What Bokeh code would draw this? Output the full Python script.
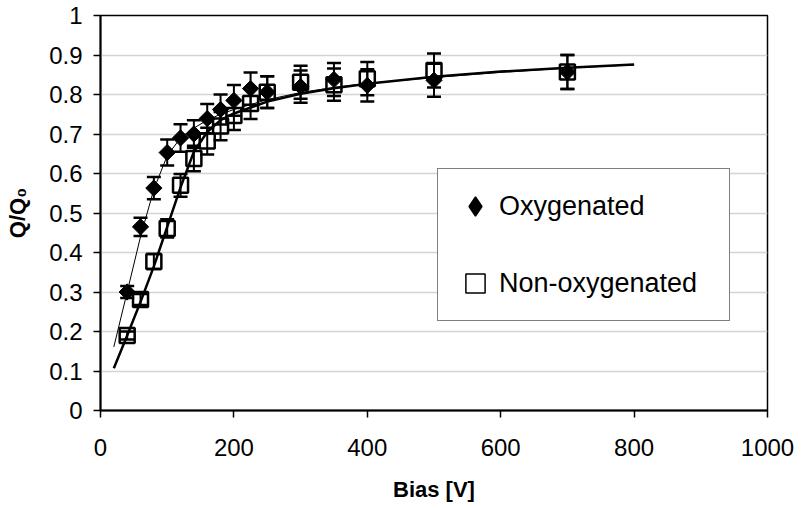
import math
from bokeh.plotting import figure
from bokeh.models import (ColumnDataSource, Whisker, TeeHead, FixedTicker,
                          PrintfTickFormatter, Legend, LegendItem)
from bokeh.embed import file_html
from bokeh.resources import INLINE

# ---- data ----
bias = [40, 60, 80, 100, 120, 140, 160, 180, 200, 225, 250, 300, 350, 400, 500, 700]
oxygenated = [0.300, 0.465, 0.563, 0.653, 0.690, 0.700, 0.739, 0.762, 0.785, 0.815,
              0.806, 0.820, 0.838, 0.823, 0.836, 0.857]
oxygenated_err = [0.015, 0.023, 0.028, 0.033, 0.035, 0.035, 0.037, 0.038, 0.039, 0.041,
                  0.040, 0.041, 0.042, 0.041, 0.042, 0.043]
non_oxygenated = [0.190, 0.281, 0.377, 0.461, 0.570, 0.638, 0.682, 0.720, 0.747, 0.777,
                  0.806, 0.831, 0.825, 0.840, 0.861, 0.857]
non_oxygenated_err = [0.010, 0.014, 0.019, 0.023, 0.029, 0.032, 0.034, 0.036, 0.037, 0.039,
                      0.040, 0.042, 0.041, 0.042, 0.043, 0.043]

fit_bias = [20, 40, 60, 80, 100, 120, 140, 160, 180, 200, 250, 300, 350, 400, 500, 600, 700, 800]
fit_oxygenated = [0.161, 0.300, 0.440, 0.560, 0.645, 0.690, 0.715, 0.735, 0.750, 0.762,
                  0.787, 0.805, 0.818, 0.828, 0.843, 0.856, 0.867, 0.875]
fit_non_oxygenated = [0.107, 0.190, 0.275, 0.365, 0.465, 0.565, 0.655, 0.705, 0.735, 0.752,
                      0.782, 0.802, 0.816, 0.827, 0.845, 0.858, 0.868, 0.876]

x_ticks = [0, 200, 400, 600, 800, 1000]
y_ticks = [0, 0.1, 0.2, 0.3, 0.4, 0.5, 0.6, 0.7, 0.8, 0.9, 1.0]

FONT = "Liberation Sans"

p = figure(frame_width=667, frame_height=395, x_range=(0, 1000), y_range=(0, 1),
           output_backend="svg", toolbar_location=None,
           min_border_left=100, min_border_right=40, min_border_top=15, min_border_bottom=98,
           background_fill_color="white", border_fill_color="white")

p.outline_line_color = "black"
p.outline_line_width = 1.5
p.xgrid.visible = False
p.ygrid.grid_line_color = "#d4d4d4"
p.ygrid.grid_line_width = 1.5
p.ygrid.ticker = FixedTicker(ticks=y_ticks)

p.xaxis.ticker = FixedTicker(ticks=x_ticks)
p.yaxis.ticker = FixedTicker(ticks=y_ticks)
p.yaxis.formatter = PrintfTickFormatter(format="%g")

for ax in (p.xaxis, p.yaxis):
    ax.axis_line_color = "black"
    ax.axis_line_width = 2
    ax.major_tick_out = 7
    ax.major_tick_in = 0
    ax.major_tick_line_width = 1.5
    ax.major_tick_line_color = "black"
    ax.minor_tick_out = 0
    ax.minor_tick_in = 0
    ax.major_label_text_font = FONT
    ax.major_label_text_font_size = "24px"
    ax.major_label_text_color = "black"
    ax.axis_label_text_font = FONT
    ax.axis_label_text_font_size = "22px"
    ax.axis_label_text_font_style = "bold"
    ax.axis_label_text_color = "black"

p.xaxis.major_label_standoff = 21
p.yaxis.major_label_standoff = 11
p.xaxis.axis_label = "Bias [V]"
p.xaxis.axis_label_standoff = 18
p.yaxis.axis_label = "Q/Q\u2080"
p.yaxis.axis_label_standoff = 16

src_o = ColumnDataSource(dict(
    x=bias, y=oxygenated,
    lower=[v - e for v, e in zip(oxygenated, oxygenated_err)],
    upper=[v + e for v, e in zip(oxygenated, oxygenated_err)]))
src_n = ColumnDataSource(dict(
    x=bias, y=non_oxygenated,
    lower=[v - e for v, e in zip(non_oxygenated, non_oxygenated_err)],
    upper=[v + e for v, e in zip(non_oxygenated, non_oxygenated_err)]))

for src in (src_o, src_n):
    w = Whisker(base="x", lower="lower", upper="upper", source=src, dimension="height",
                line_color="black", line_width=2, level="glyph",
                upper_head=TeeHead(size=14, line_color="black", line_width=2.5),
                lower_head=TeeHead(size=14, line_color="black", line_width=2.5))
    p.add_layout(w)

r_o = p.scatter("x", "y", source=src_o, marker="square", angle=math.pi / 4, size=11.5,
                fill_color="black", line_color="black", line_width=1)
r_n = p.scatter("x", "y", source=src_n, marker="square", size=15,
                fill_color=None, line_color="black", line_width=2.5)

# legend-only glyphs (legends draw markers unrotated)
r_o_leg = p.scatter("x", "y", source=src_o, marker="diamond", size=21,
                    fill_color="black", line_color="black", line_width=1.5, visible=False)
r_n_leg = p.scatter("x", "y", source=src_n, marker="square", size=18,
                    fill_color=None, line_color="black", line_width=1.5, visible=False)

p.line(fit_bias, fit_oxygenated, line_color="black", line_width=1)
p.line(fit_bias, fit_non_oxygenated, line_color="black", line_width=2.5)

legend = Legend(items=[LegendItem(label="Oxygenated", renderers=[r_o_leg]),
                       LegendItem(label="Non-oxygenated", renderers=[r_n_leg])],
                location=(337, 89), orientation="vertical",
                glyph_width=48, glyph_height=48, spacing=29, padding=13,
                label_standoff=0, label_width=217,
                label_text_font=FONT, label_text_font_size="27px", label_text_color="black",
                border_line_color="black", border_line_width=1,
                background_fill_color="white", background_fill_alpha=1.0,
                inactive_fill_alpha=0.0, click_policy="none",
                margin=0)
p.add_layout(legend)

open("out.html", "w").write(file_html(p, INLINE))
